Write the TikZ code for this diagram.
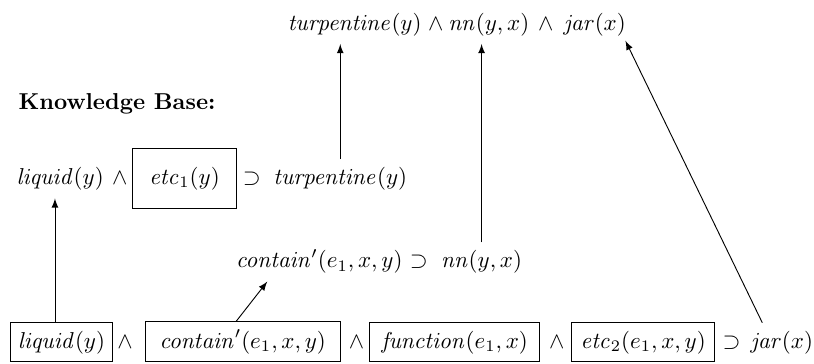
\documentclass[tikz,border=0pt]{standalone}
\usepackage{amsmath, amssymb}

\begin{document}
\begin{tikzpicture}[>=latex, every node/.style={anchor=base},
  assum/.style={draw, inner ysep=3.5pt}]

\useasboundingbox (0,0) rectangle (12.44,5.56);

% 結論
\node (gturp) at (5.42,5.10) {$\mathit{turpentine}(y)$};
\node (gand1) at (6.66,5.10) {$\wedge$};
\node (gnn)   at (7.47,5.10) {$\mathit{nn}(y,x)$};
\node (gand2) at (8.34,5.10) {$\wedge$};
\node (gjar)  at (9.09,5.10) {$\mathit{jar}(x)$};

% 知識ベース
\node[anchor=base west] (kb) at (0.16,3.88) {\textbf{Knowledge Base:}};

\node (kbliq)  at (0.92,2.74) {$\mathit{liquid}(y)$};
\node (kband)  at (1.83,2.74) {$\wedge$};
\node[assum, inner ysep=8pt, minimum width=1.60cm] (kbetc) at (2.82,2.74) {$\mathit{etc}_1(y)$};
\node (kbsup1) at (3.85,2.74) {$\supset$};
\node (kbturp) at (5.20,2.74) {$\mathit{turpentine}(y)$};

\node (kbcont) at (4.88,1.47) {$\mathit{contain}'(e_1,x,y)$};
\node (kbsup2) at (6.40,1.47) {$\supset$};
\node (kbnn)   at (7.36,1.47) {$\mathit{nn}(y,x)$};

% 観測
\node[assum, minimum width=1.57cm] (bliq) at (0.94,0.24) {$\mathit{liquid}(y)$};
\node (band1) at (1.91,0.24) {$\wedge$};
\node[assum, minimum width=2.98cm] (bcont) at (3.71,0.24) {$\mathit{contain}'(e_1,x,y)$};
\node (band2) at (5.45,0.24) {$\wedge$};
\node[assum, minimum width=2.60cm] (bfun) at (6.95,0.24) {$\mathit{function}(e_1,x)$};
\node (band3) at (8.51,0.24) {$\wedge$};
\node[assum, minimum width=2.19cm] (betc) at (9.83,0.24) {$\mathit{etc}_2(e_1,x,y)$};
\node (bsup) at (11.18,0.24) {$\supset$};
\node (bjar) at (11.95,0.24) {$\mathit{jar}(x)$};

% 矢印
\draw[->] ([xshift=-0.1cm]bliq.north) -- ([xshift=-0.1cm]bliq.north |- kbliq.south);
\draw[->] ([xshift=-0.1cm]bcont.north) -- ([xshift=0.6cm]kbcont.south west);
\draw[->] (kbturp.north) -- (kbturp.north |- gturp.south);
\draw[->] (kbnn.north) -- (kbnn.north |- gnn.south);
\draw[->] ([xshift=-0.3cm]bjar.north) -- ([xshift=-0.13cm,yshift=0.05cm]gjar.south east);

\end{tikzpicture}
\end{document}
